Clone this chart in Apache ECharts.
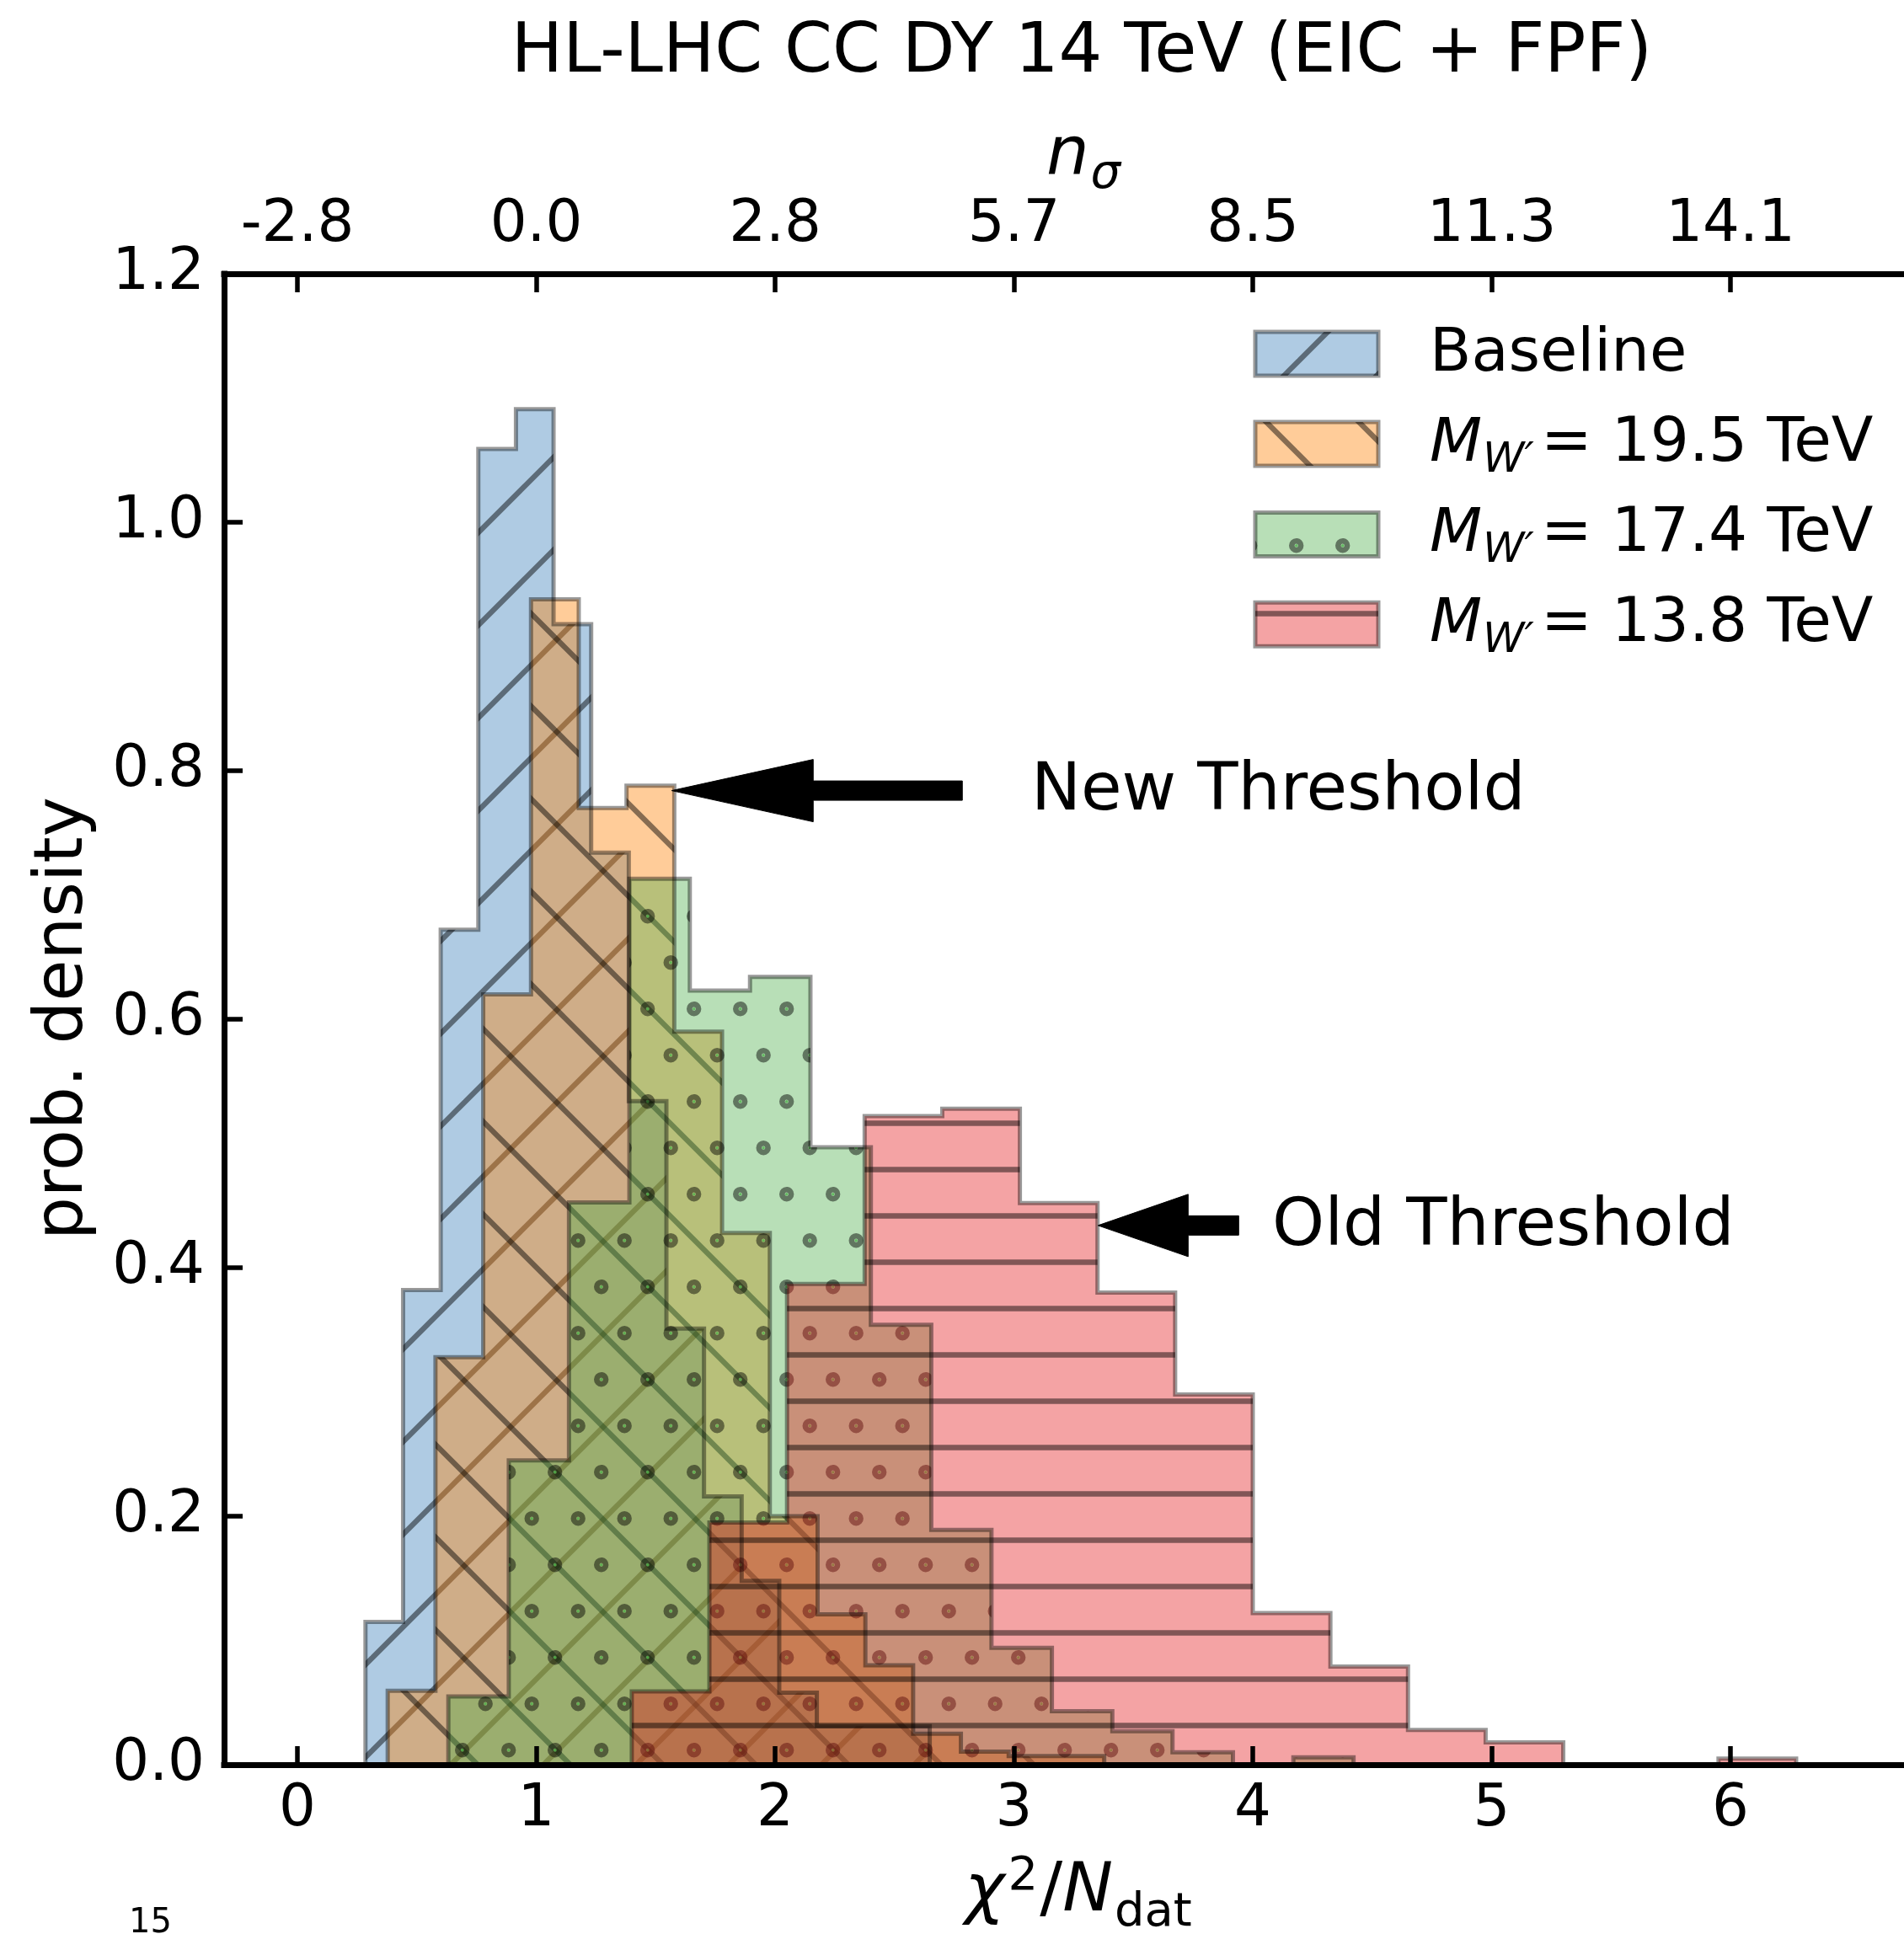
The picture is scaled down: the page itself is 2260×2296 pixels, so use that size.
<!DOCTYPE html>
<html>
<head>
<meta charset="utf-8">
<title>HL-LHC CC DY 14 TeV (EIC + FPF)</title>
<script src="https://cdn.jsdelivr.net/npm/echarts@6.0.0/dist/echarts.min.js"></script>
<style>
html,body{margin:0;padding:0;background:#ffffff;}
#chart{width:2260px;height:2296px;}
</style>
</head>
<body>
<div id="chart"></div>
<script>
// ================= data =================
const chartTitle = 'HL-LHC CC DY 14 TeV (EIC + FPF)';
const yAxisTitle = 'prob. density';
const pageNumber = '15';

const xTickValues = [0, 1, 2, 3, 4, 5, 6];
const xTickLabels = ['0', '1', '2', '3', '4', '5', '6'];
const nSigmaTickLabels = ['-2.8', '0.0', '2.8', '5.7', '8.5', '11.3', '14.1'];
const yTickValues = [0, 0.2, 0.4, 0.6, 0.8, 1.0, 1.2];
const yTickLabels = ['0.0', '0.2', '0.4', '0.6', '0.8', '1.0', '1.2'];

// Baseline
const baselineEdges = [0.285, 0.4425, 0.600, 0.7575, 0.915, 1.0725, 1.230, 1.3875,
  1.545, 1.7025, 1.860, 2.0175, 2.175, 2.3325, 2.490, 2.6475];
const baselineDensity = [0.115, 0.382, 0.672, 1.059, 1.091, 0.918, 0.734, 0.534,
  0.351, 0.216, 0.148, 0.058, 0.031, 0.031, 0.031];

// M_W' = 19.5 TeV
const w195Edges = [0.378, 0.578, 0.778, 0.978, 1.178, 1.378, 1.578, 1.778,
  1.978, 2.178, 2.378, 2.578, 2.778, 2.978, 3.178, 3.378];
const w195Density = [0.0595, 0.328, 0.620, 0.938, 0.770, 0.788, 0.590, 0.428,
  0.200, 0.121, 0.080, 0.025, 0.0105, 0.007, 0.007];

// M_W' = 17.4 TeV
const w174Edges = [0.632, 0.885, 1.137, 1.390, 1.643, 1.895, 2.148, 2.401,
  2.654, 2.906, 3.159, 3.412, 3.664, 3.917, 4.170, 4.422];
const w174Density = [0.055, 0.245, 0.4525, 0.713, 0.623, 0.634, 0.497, 0.354,
  0.189, 0.094, 0.043, 0.027, 0.010, 0.0, 0.006];

// M_W' = 13.8 TeV
const w138Edges = [1.400, 1.725, 2.050, 2.375, 2.700, 3.025, 3.350, 3.675,
  4.000, 4.325, 4.650, 4.975, 5.300, 5.625, 5.950, 6.275];
const w138Density = [0.059, 0.195, 0.387, 0.522, 0.528, 0.452, 0.380, 0.298,
  0.122, 0.079, 0.028, 0.018, 0.0, 0.0, 0.005];

const legendMasses = ['19.5', '17.4', '13.8'];

// annotations (data coordinates)
const newThresholdTip = [1.567, 0.784];
const newThresholdTextPos = [3.086, 0.784];
const oldThresholdTip = [3.352, 0.434];
const oldThresholdTextPos = [4.088, 0.434];

// ================= styling / layout =================
const FONT = '"DejaVu Sans"';
const X_MIN = -0.3069, X_MAX = 6.7266;
const GRID = { left: 266, right: 0, top: 325, bottom: 201 };

const measureCtx = document.createElement('canvas').getContext('2d');
function fontStr(size, italic) { return (italic ? 'italic ' : '') + size + 'px ' + FONT; }
function measure(t, size, italic) { measureCtx.font = fontStr(size, italic); return measureCtx.measureText(t).width; }

// hatch patterns (fill + hatch baked together, anchored to canvas origin)
function makePattern(kind, rgb) {
  let w = 110, h = 110;
  if (kind === '-') { w = 55; h = 55; }
  if (kind === 'o') { w = 55; h = 110; }
  const c = document.createElement('canvas');
  c.width = w; c.height = h;
  const g = c.getContext('2d');
  g.fillStyle = 'rgba(' + rgb.join(',') + ',0.4)';
  g.fillRect(0, 0, w, h);
  g.strokeStyle = 'rgba(0,0,0,0.47)';
  g.lineCap = 'butt';
  g.lineWidth = 6.3;
  if (kind === '/') {
    [-10, 100, 210].forEach(cc => { g.beginPath(); g.moveTo(cc + 40, -40); g.lineTo(-40, cc + 40); g.stroke(); });
  } else if (kind === '\\') {
    [-98, 12, 122].forEach(cc => { g.beginPath(); g.moveTo(-40, -40 - cc); g.lineTo(150, 150 - cc); g.stroke(); });
  } else if (kind === '-') {
    g.beginPath(); g.moveTo(-5, 13.5); g.lineTo(60, 13.5); g.stroke();
  } else if (kind === 'o') {
    const centers = [[53.7, 97.7], [26.2, 42.7]];
    centers.forEach(([cx, cy]) => {
      [-55, 0, 55].forEach(dx => [-110, 0, 110].forEach(dy => {
        g.lineWidth = 6.6;
        g.strokeStyle = 'rgba(0,0,0,0.47)';
        g.beginPath(); g.arc(cx + dx, cy + dy, 5.4, 0, Math.PI * 2); g.stroke();
        g.fillStyle = 'rgba(77,175,74,0.8)';
        g.beginPath(); g.arc(cx + dx, cy + dy, 1.7, 0, Math.PI * 2); g.fill();
      }));
    });
  }
  return { image: c, repeat: 'repeat' };
}

const histDefs = [
  { name: 'Baseline', edges: baselineEdges, dens: baselineDensity, rgb: [55, 126, 184], hatch: '/' },
  { name: 'M19.5', edges: w195Edges, dens: w195Density, rgb: [255, 127, 0], hatch: '\\' },
  { name: 'M17.4', edges: w174Edges, dens: w174Density, rgb: [77, 175, 74], hatch: 'o' },
  { name: 'M13.8', edges: w138Edges, dens: w138Density, rgb: [228, 26, 28], hatch: '-' }
];
histDefs.forEach(d => { d.pattern = makePattern(d.hatch, d.rgb); });

function stepPoints(edges, dens) {
  const pts = [[edges[0], 0]];
  for (let i = 0; i < dens.length; i++) pts.push([edges[i], dens[i]]);
  pts.push([edges[edges.length - 1], 0]);
  return pts;
}

const axisLineStyle = { color: '#000', width: 7, cap: 'square' };
const tickStyle = { color: '#000', width: 5.5 };
const labelBase = { color: '#000', fontFamily: FONT, fontSize: 69 };

const option = {
  backgroundColor: '#ffffff',
  animation: false,
  grid: Object.assign({ containLabel: false, outerBoundsMode: 'none' }, GRID),
  xAxis: [
    {
      type: 'value', position: 'bottom', min: X_MIN, max: X_MAX, z: 10,
      axisLine: { show: true, onZero: false, lineStyle: axisLineStyle },
      axisTick: { show: true, inside: true, length: 22, lineStyle: tickStyle, customValues: xTickValues },
      axisLabel: Object.assign({ show: true, margin: 54, verticalAlign: 'middle', customValues: xTickValues,
        formatter: v => xTickLabels[xTickValues.indexOf(Math.round(v))] }, labelBase),
      splitLine: { show: false }
    },
    {
      type: 'value', position: 'top', min: X_MIN, max: X_MAX, z: 10,
      axisLine: { show: true, onZero: false, lineStyle: axisLineStyle },
      axisTick: { show: true, inside: true, length: 22, lineStyle: tickStyle, customValues: xTickValues },
      axisLabel: Object.assign({ show: true, margin: 57, verticalAlign: 'middle', customValues: xTickValues,
        formatter: v => nSigmaTickLabels[xTickValues.indexOf(Math.round(v))] }, labelBase),
      splitLine: { show: false }
    }
  ],
  yAxis: {
    type: 'value', min: 0, max: 1.2, interval: 0.2, z: 10,
    axisLine: { show: true, onZero: false, lineStyle: axisLineStyle },
    axisTick: { show: true, inside: true, length: 22, lineStyle: tickStyle },
    axisLabel: Object.assign({ show: true, margin: 23, showMinLabel: true, showMaxLabel: true,
      formatter: v => yTickLabels[yTickValues.findIndex(t => Math.abs(t - v) < 1e-6)] }, labelBase),
    splitLine: { show: false }
  },
  series: histDefs.map(d => ({
    type: 'line', name: d.name, xAxisIndex: 0, yAxisIndex: 0,
    data: stepPoints(d.edges, d.dens),
    step: 'end', showSymbol: false, symbol: 'none', silent: true, animation: false,
    lineStyle: { color: 'rgba(0,0,0,0.4)', width: 5, join: 'miter', cap: 'butt' },
    areaStyle: { color: d.pattern, opacity: 1 },
    z: 2
  }))
};

const chart = echarts.init(document.getElementById('chart'), null, { renderer: 'canvas', width: 2260, height: 2296 });
chart.setOption(option);

// ---------- text with math pieces ----------
function mathLabel(pieces, x, baseline, anchor) {
  let total = 0;
  const widths = pieces.map(p => { const w = measure(p.t, p.size, p.italic) + (p.gap || 0); total += w; return w; });
  let cx = anchor === 'center' ? x - total / 2 : x;
  const els = [];
  pieces.forEach((p, i) => {
    els.push({ type: 'text', z: 100, silent: true,
      style: { text: p.t, x: cx + (p.gap || 0), y: baseline + (p.dy || 0) - 0.35 * p.size,
        font: fontStr(p.size, p.italic), fill: '#000', align: 'left', verticalAlign: 'middle' } });
    cx += widths[i];
  });
  return els;
}

function arrow(tipData, headLen, totalLen, hw, sw) {
  const p = chart.convertToPixel({ xAxisIndex: 0, yAxisIndex: 0 }, tipData);
  const tx = p[0], ty = p[1], bx = tx + headLen, ex = tx + totalLen;
  return { type: 'polygon', z: 100, silent: true,
    shape: { points: [[tx, ty], [bx, ty - hw], [bx, ty - sw], [ex, ty - sw], [ex, ty + sw], [bx, ty + sw], [bx, ty + hw]] },
    style: { fill: '#000', stroke: '#000', lineWidth: 1 } };
}

const graphics = [];
// title
graphics.push(...mathLabel([{ t: chartTitle, size: 81.5 }], 1284, 92, 'center'));
// top axis title n_sigma
graphics.push(...mathLabel([{ t: 'n', size: 80, italic: true }, { t: 'σ', size: 56, italic: true, dy: 14, gap: 2 }], 1286, 214, 'center'));
// bottom axis title chi^2/N_dat
graphics.push(...mathLabel([
  { t: 'χ', size: 80, italic: true },
  { t: '2', size: 56, dy: -27, gap: 4 },
  { t: '/', size: 80, gap: 2 },
  { t: 'N', size: 80, italic: true },
  { t: 'dat', size: 56, dy: 16, gap: 2 }
], 1280, 2275, 'center'));
// y axis title
graphics.push({ type: 'text', z: 100, silent: true, x: 76, y: 1209, rotation: Math.PI / 2,
  style: { text: yAxisTitle, x: 0, y: 0, font: fontStr(80, false), fill: '#000', align: 'center', verticalAlign: 'middle' } });
// page number
graphics.push(...mathLabel([{ t: pageNumber, size: 40 }], 153, 2298, 'left'));

// legend
const legendCenters = [420, 527, 634.5, 741.3];
histDefs.forEach((d, i) => {
  const cy = legendCenters[i];
  graphics.push({ type: 'rect', z: 100, silent: true,
    shape: { x: 1490, y: cy - 26, width: 146, height: 52 },
    style: { fill: d.pattern, stroke: 'rgba(0,0,0,0.4)', lineWidth: 5 } });
  const base = cy + 26.2;
  if (i === 0) {
    graphics.push(...mathLabel([{ t: 'Baseline', size: 72 }], 1697, base, 'left'));
  } else {
    graphics.push(...mathLabel([
      { t: 'M', size: 72, italic: true },
      { t: 'W′', size: 50, italic: true, dy: 11, gap: 1 },
      { t: '= ' + legendMasses[i - 1] + ' TeV', size: 72.5, gap: 8 }
    ], 1697, base, 'left'));
  }
});

// annotations
graphics.push(arrow(newThresholdTip, 168, 345, 37, 11.5));
graphics.push(arrow(oldThresholdTip, 107, 167, 37, 11.5));
const pNew = chart.convertToPixel({ xAxisIndex: 0, yAxisIndex: 0 }, newThresholdTextPos);
const pOld = chart.convertToPixel({ xAxisIndex: 0, yAxisIndex: 0 }, oldThresholdTextPos);
graphics.push(...mathLabel([{ t: 'New Threshold', size: 79 }], pNew[0] - 4, pNew[1] + 30, 'left'));
graphics.push(...mathLabel([{ t: 'Old Threshold', size: 79 }], pOld[0] - 2, pOld[1] + 30, 'left'));

chart.setOption({ graphic: { elements: graphics } });
</script>
</body>
</html>
